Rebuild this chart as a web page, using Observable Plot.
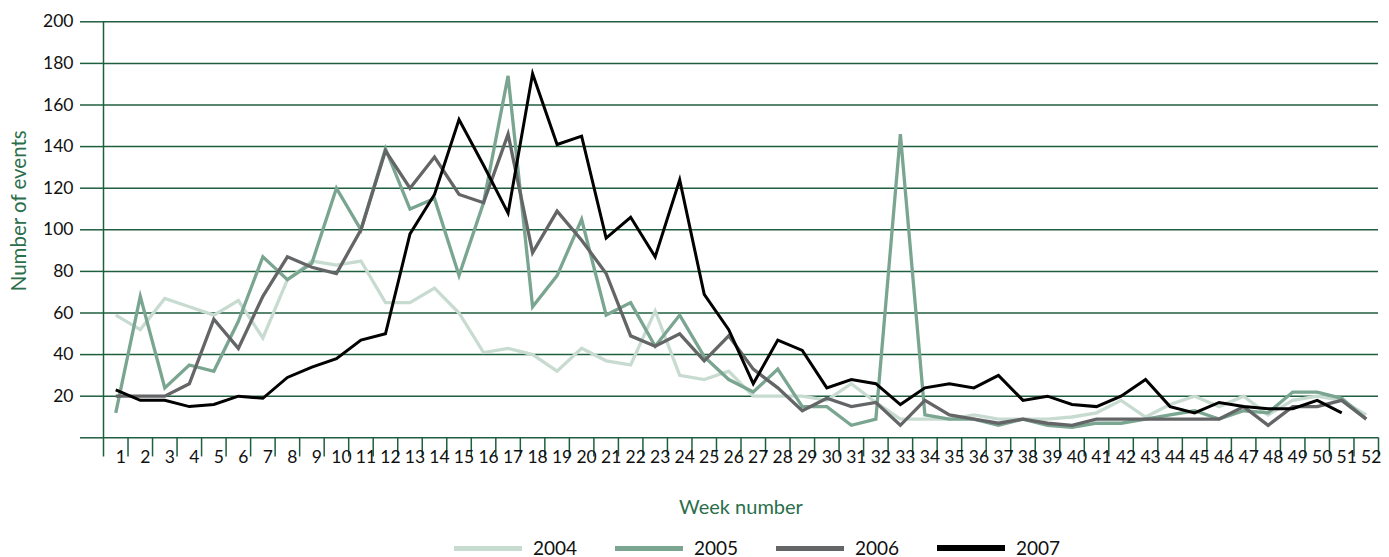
<!DOCTYPE html>
<html>
<head>
<meta charset="utf-8">
<script src="https://cdn.jsdelivr.net/npm/d3@7"></script>
<script src="https://cdn.jsdelivr.net/npm/@observablehq/plot@0.6"></script>
<style>
  html, body { margin: 0; padding: 0; background: #fff; }
  body { font-family: Lato, "Open Sans", sans-serif; width: 1389px; height: 557px; overflow: hidden; }
  #legend { display: flex; align-items: center; height: 18px; padding-left: 454px; margin-top: 0; }
  .item { display: flex; align-items: center; width: 161px; }
  .sw { width: 68px; margin-right: 11px; }
  .lab { font-size: 19px; line-height: 18px; color: #111; }
</style>
</head>
<body>
<div id="chart"></div>
<div id="legend"></div>
<script>
// ---- data ----
const weeks = d3.range(1, 53);
const years = ["2004", "2005", "2006", "2007"];
const colors = ["#c8dbd1", "#7aa591", "#646567", "#000000"];
const yTicks = [0, 20, 40, 60, 80, 100, 120, 140, 160, 180, 200];

const v2004 = [59,52,67,63,59,66,48,76,85,83,85,65,65,72,60,41,43,40,32,43,37,35,61,30,28,32,20,20,20,18,26,17,9,9,9,11,9,9,9,10,12,18,10,16,20,15,20,11,18,20,18,11];
const v2005 = [12,68,24,35,32,56,87,76,84,120,100,139,110,115,78,113,174,63,78,105,59,65,44,59,39,28,22,33,15,15,6,9,146,11,9,9,6,9,6,5,7,7,9,11,13,9,13,12,22,22,19,9];
const v2006 = [20,20,20,26,57,43,68,87,82,79,100,138,120,135,117,113,146,89,109,95,79,49,44,50,37,49,33,24,13,19,15,17,6,18,11,9,7,9,7,6,9,9,9,9,9,9,15,6,15,15,18,9];
const v2007 = [23,18,18,15,16,20,19,29,34,38,47,50,98,117,153,131,108,175,141,145,96,106,87,124,69,52,26,47,42,24,28,26,16,24,26,24,30,18,20,16,15,20,28,15,12,17,15,14,14,18,12,null];

const seriesValues = [v2004, v2005, v2006, v2007];

// ---- build table ----
const rows = [];
years.forEach((yr, i) => {
  seriesValues[i].forEach((v, j) => {
    if (v != null) rows.push({year: yr, week: weeks[j], value: v});
  });
});

const gridColor = "#1f5f3f";
const titleColor = "#2b6e4b";
const W = 1389, H = 539;
const mL = 103, mR = 11, mT = 21.3, yZero = 437.3;
const step = (W - mL - mR) / weeks.length;

const lineMarks = years.map((yr, i) =>
  Plot.line(rows.filter(d => d.year === yr), {
    x: "week", y: "value", stroke: colors[i], strokeWidth: i === 3 ? 3 : 3.3,
    strokeLinejoin: "miter", strokeLinecap: "butt", strokeMiterlimit: 6
  })
);

const chart = Plot.plot({
  width: W,
  height: H,
  marginLeft: mL,
  marginRight: mR,
  marginTop: mT,
  marginBottom: H - yZero,
  style: {fontFamily: "Lato, 'Open Sans', sans-serif", fontSize: "17px", background: "#fff", color: "#111", overflow: "visible"},
  x: {type: "point", domain: weeks, padding: 0.5, round: false},
  y: {domain: [0, 200]},
  marks: [
    Plot.gridY(yTicks, {stroke: gridColor, strokeOpacity: 1, strokeWidth: 1.5}),
    Plot.axisY(yTicks, {
      tickSize: 23, tickPadding: 7, stroke: gridColor, strokeWidth: 1.5,
      tickFormat: d => d === 0 ? "" : String(d), fontSize: 17.5, label: null, fill: "#111"
    }),
    // vertical y-axis line extending below the baseline
    Plot.ruleX([weeks[0]], {x: d => d, dx: -step / 2, y1: 200, y2: -9.2, stroke: gridColor, strokeWidth: 1.5}),
    // category separator ticks
    Plot.ruleX(weeks, {x: d => d, dx: step / 2, y1: 0, y2: -9.2, stroke: gridColor, strokeWidth: 1.5}),
    Plot.axisX({tickSize: 0, tickPadding: 13, dx: 5, fontSize: 17.5, label: null, fill: "#111"}),
    Plot.text(["Week number"], {frameAnchor: "bottom", dy: 76, fill: titleColor, fontSize: 20, textAnchor: "middle"}),
    Plot.text(["Number of events"], {frameAnchor: "left", rotate: -90, dx: -84, dy: -19, fill: titleColor, fontSize: 20.5, textAnchor: "middle"}),
    ...lineMarks
  ]
});

document.getElementById("chart").appendChild(chart);

// ---- legend ----
const legend = document.getElementById("legend");
years.forEach((yr, i) => {
  const item = document.createElement("div");
  item.className = "item";
  const sw = document.createElement("div");
  sw.className = "sw";
  sw.style.background = colors[i];
  sw.style.height = i === 3 ? "6px" : "5px";
  const lab = document.createElement("span");
  lab.className = "lab";
  lab.textContent = yr;
  item.appendChild(sw);
  item.appendChild(lab);
  legend.appendChild(item);
});
</script>
</body>
</html>
